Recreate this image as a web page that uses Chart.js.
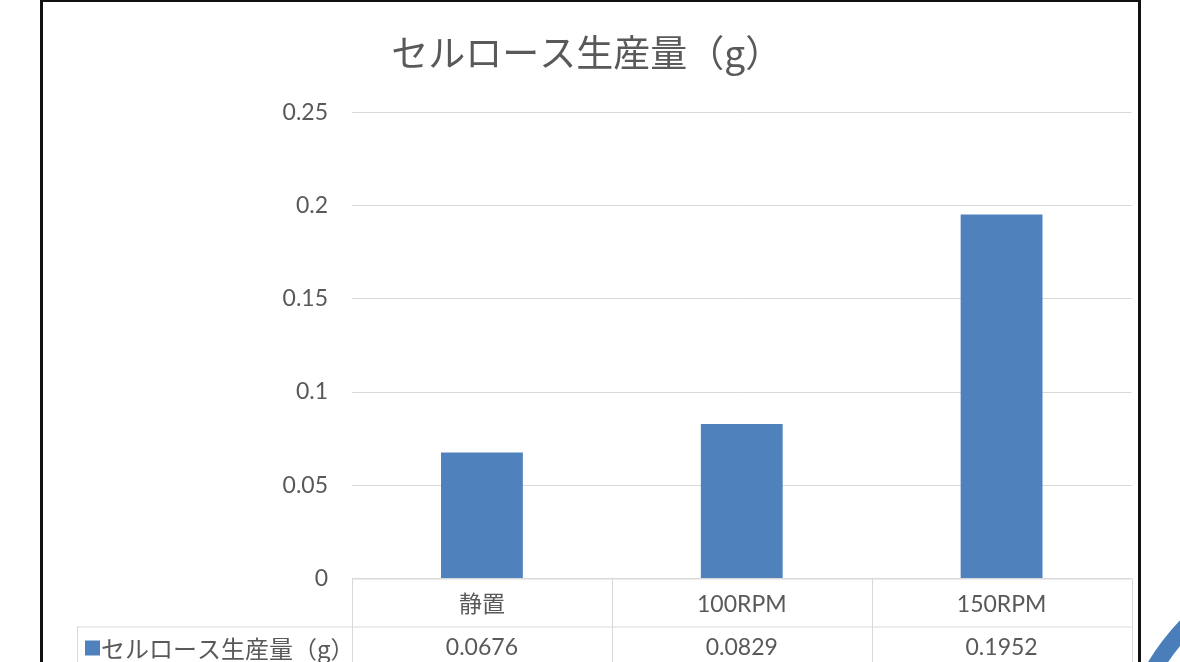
<!DOCTYPE html>
<html>
<head>
<meta charset="utf-8">
<script src="https://cdn.jsdelivr.net/npm/chart.js@4.4.1/dist/chart.umd.min.js"></script>
<style>
    html, body { margin: 0; padding: 0; background: #fff; overflow: hidden; }
    #wrap { position: relative; width: 1180px; height: 662px; }
    #chartBox { position: absolute; left: 42px; top: 0; width: 1092px; height: 662px; }
    #frame {
        position: absolute; left: 40px; top: -1px; width: 1095px; height: 720px;
        border: 3px solid #111; pointer-events: none;
    }
    #deco { position: absolute; left: 0; top: 0; pointer-events: none; }
</style>
</head>
<body>
<div id="wrap">
    <div id="chartBox"><canvas id="chart" width="1092" height="662"></canvas></div>
    <div id="frame"></div>
    <svg id="deco" width="1180" height="662">
        <path d="M1151 674 Q1166 646 1192 620" stroke="#4a7ebb" stroke-width="17" fill="none"/>
    </svg>
</div>
<script>
const seriesName = 'セルロース生産量（g）';
const categories = ['静置', '100RPM', '150RPM'];
const values = [0.0676, 0.0829, 0.1952];
const valueLabels = ['0.0676', '0.0829', '0.1952'];
const yTickLabels = ['0', '0.05', '0.1', '0.15', '0.2', '0.25'];

const barColor = '#4f81bd';
const lineColor = '#d9d9d9';
const textColor = '#595959';
const numFont = "Lato, 'Noto Sans CJK JP', sans-serif";
const jpFont = "'Noto Sans CJK JP', sans-serif";

// draws the data table under the bars (Excel style)
const dataTable = {
    id: 'dataTable',
    afterDraw(chart) {
        const ctx = chart.ctx;
        const x = chart.scales.x;
        const area = chart.chartArea;
        const bottom = chart.height;
        const rowTop = x.bottom;
        const half = (x.getPixelForValue(1) - x.getPixelForValue(0)) / 2;
        const legendLeft = 35;

        ctx.save();
        ctx.strokeStyle = lineColor;
        ctx.lineWidth = 1;
        ctx.beginPath();
        ctx.moveTo(area.left, area.bottom + 0.5);
        ctx.lineTo(area.right, area.bottom + 0.5);
        ctx.moveTo(legendLeft, rowTop + 0.5);
        ctx.lineTo(area.right, rowTop + 0.5);
        ctx.moveTo(legendLeft + 0.5, rowTop);
        ctx.lineTo(legendLeft + 0.5, bottom);
        for (let i = 0; i <= categories.length; i++) {
            const px = Math.round(x.getPixelForValue(0) - half + i * half * 2) + 0.5;
            ctx.moveTo(px, area.bottom);
            ctx.lineTo(px, bottom);
        }
        ctx.stroke();

        const rowMid = rowTop + 21;
        ctx.fillStyle = textColor;
        ctx.textAlign = 'center';
        ctx.textBaseline = 'middle';
        ctx.font = '23px ' + numFont;
        valueLabels.forEach((v, i) => {
            ctx.fillText(v, x.getPixelForValue(i), rowMid);
        });

        ctx.fillStyle = barColor;
        ctx.fillRect(43, rowMid - 7, 15, 15);
        ctx.fillStyle = textColor;
        ctx.textAlign = 'left';
        ctx.font = '24px ' + jpFont;
        ctx.fillText(seriesName, 59, rowMid + 1);
        ctx.restore();
    }
};

new Chart(document.getElementById('chart'), {
    type: 'bar',
    data: {
        labels: categories,
        datasets: [{
            label: seriesName,
            data: values,
            backgroundColor: barColor,
            borderWidth: 0,
            categoryPercentage: 1,
            barPercentage: 0.315
        }]
    },
    options: {
        responsive: false,
        animation: false,
        layout: { padding: { left: 0, right: 2.5, top: 0, bottom: 35.5 } },
        plugins: {
            legend: { display: false },
            tooltip: { enabled: false },
            title: {
                display: true,
                text: seriesName,
                color: textColor,
                font: { family: jpFont, size: 37, weight: 'normal' },
                padding: { top: 31, bottom: 37 }
            }
        },
        scales: {
            y: {
                min: 0,
                max: 0.25,
                ticks: {
                    stepSize: 0.05,
                    padding: 24,
                    color: textColor,
                    font: { family: numFont, size: 23 },
                    callback: (v, i) => yTickLabels[i]
                },
                grid: { color: lineColor, drawTicks: false },
                border: { display: false },
                afterFit(scale) { scale.width = 310; }
            },
            x: {
                ticks: {
                    padding: 12,
                    color: textColor,
                    font: { family: numFont, size: 23 }
                },
                grid: { display: false, drawTicks: false },
                border: { display: false },
                afterFit(scale) { scale.height = 48; }
            }
        }
    },
    plugins: [dataTable]
});
</script>
</body>
</html>
